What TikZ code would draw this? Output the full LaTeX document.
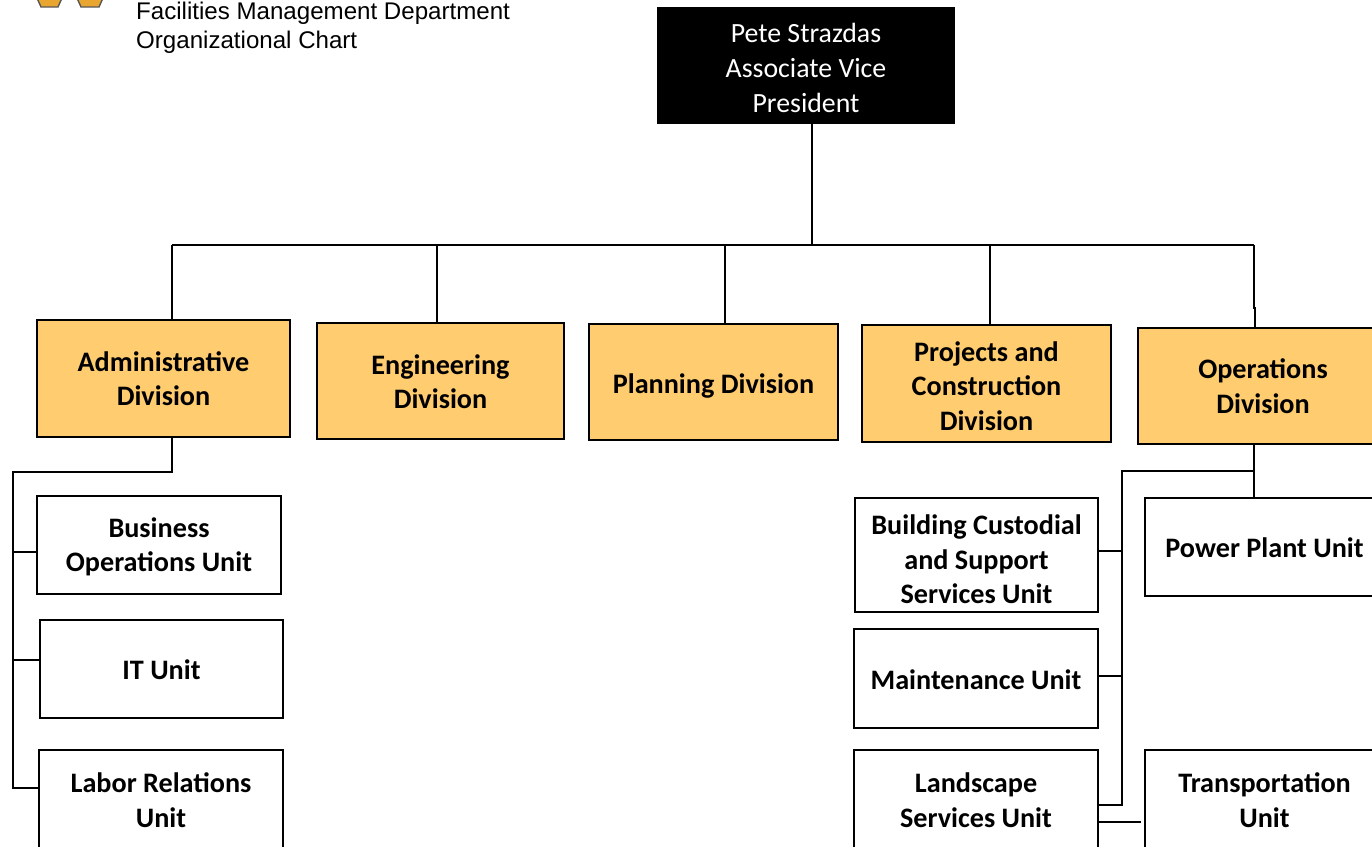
\documentclass[tikz,border=0pt]{standalone}
\usepackage{fontspec}
\setmainfont{Carlito}
\newfontfamily\headfont{Liberation Sans}
\definecolor{divgold}{HTML}{FFCC70}
\definecolor{logogold}{HTML}{E8A52F}
\tikzset{
 orgbox/.style={draw=black, line width=2pt, align=center, font=\fontsize{28.2}{34.5}\selectfont\bfseries, inner sep=0pt},
 divbox/.style={orgbox, fill=divgold},
 unitbox/.style={orgbox, fill=white},
 headbox/.style={draw=none, fill=black, text=white, align=center, inner sep=0pt, font=\fontsize{27.8}{35}\selectfont},
 logopart/.style={fill=logogold, draw=black!65, line width=1.4pt},
 link/.style={line width=1.8pt, line join=miter}
}
% box from its pixel size and centre, last argument is the height of the first line
\newcommand{\orgnode}[8]{\node[#1, minimum width=#4pt, minimum height=#5pt] (#2) at (#6,#7) {\rule{0pt}{#8pt}#3};}
\begin{document}
\begin{tikzpicture}[x=1pt,y=-1pt]
 \useasboundingbox (0,0) rectangle (1372,846);

 % logo, cut by the top edge
 \draw[logopart] (37,-2) -- (41,7) -- (58,7) -- (62,-2) -- cycle;
 \draw[logopart] (77,-2) -- (81,7) -- (99,7) -- (103,-2) -- cycle;

 \node[anchor=west, inner sep=0pt, align=left, font=\headfont\fontsize{24.1}{28.5}\selectfont] (title) at (136,28) {Facilities Management Department\\Organizational Chart};

 \orgnode{headbox}{avp}{Pete Strazdas\\Associate Vice\\President}{298}{117}{806}{65.5}{25}

 % divisions
 \orgnode{divbox}{admin}{Administrative\\Division}{253}{117}{163.5}{378.5}{20}
 \orgnode{divbox}{engin}{Engineering\\Division}{247}{116}{440.5}{381}{21}
 \orgnode{divbox}{plan}{Planning Division}{249}{116}{713.5}{382}{27}
 \orgnode{divbox}{proj}{Projects and\\Construction\\Division}{249}{117}{986.5}{383.5}{25}
 \orgnode{divbox}{oper}{Operations\\Division}{250}{116}{1263}{386}{20}

 % units
 \orgnode{unitbox}{busi}{Business\\Operations Unit}{244}{98}{159}{545}{23}
 \orgnode{unitbox}{itun}{IT Unit}{243}{98}{161.5}{669}{21}
 \orgnode{unitbox}{labor}{Labor Relations\\Unit}{244}{100}{161}{800}{19}
 \orgnode{unitbox}{bldg}{Building Custodial\\and Support\\Services Unit}{243}{114}{976.5}{555}{29}
 \orgnode{unitbox}{maint}{Maintenance Unit}{244}{99}{976}{678.5}{23}
 \orgnode{unitbox}{land}{Landscape\\Services Unit}{244}{100}{976}{800}{19}
 \orgnode{unitbox}{power}{Power Plant Unit}{240}{98}{1264.5}{547}{21}
 \orgnode{unitbox}{trans}{Transportation\\Unit}{240}{100}{1264.5}{800}{19}

 % top bus
 \coordinate (busL) at (172,245);
 \coordinate (busR) at (1254,245);
 \coordinate (dropE) at (437,245);
 \coordinate (dropP) at (725,245);
 \coordinate (dropC) at (990,245);
 \coordinate (dropV) at (812,245);
 \draw[link] (dropV |- avp.south) -- (dropV);
 \draw[link] (busL) -- (busR);
 \draw[link] (busL) -- (busL |- admin.north);
 \draw[link] (dropE) -- (dropE |- engin.north);
 \draw[link] (dropP) -- (dropP |- plan.north);
 \draw[link] (dropC) -- (dropC |- proj.north);
 \draw[link] (busR) -- (1254,308) -- (1255,308) -- (1255,328);

 % administrative units
 \coordinate (adminA) at (172,472);
 \coordinate (adminB) at (13,472);
 \draw[link] (adminA |- admin.south) -- (adminA) -- (adminB) -- (adminB |- 0,788) -- (labor.west |- 0,788);
 \draw[link] (adminB |- 0,552) -- (busi.west |- 0,552);
 \draw[link] (adminB |- 0,660) -- (itun.west |- 0,660);

 % operations units
 \coordinate (operA) at (1254,471);
 \coordinate (operB) at (1122,471);
 \coordinate (transEnd) at (1141,822);
 \draw[link] (operA |- oper.south) -- (operA |- power.north);
 \draw[link] (operA) -- (operB) -- (operB |- 0,805) -- (land.east |- 0,805);
 \draw[link] (bldg.east |- 0,551) -- (operB |- 0,551);
 \draw[link] (maint.east |- 0,676) -- (operB |- 0,676);
 \draw[link] (land.east |- transEnd) -- (transEnd);
\end{tikzpicture}
\end{document}
